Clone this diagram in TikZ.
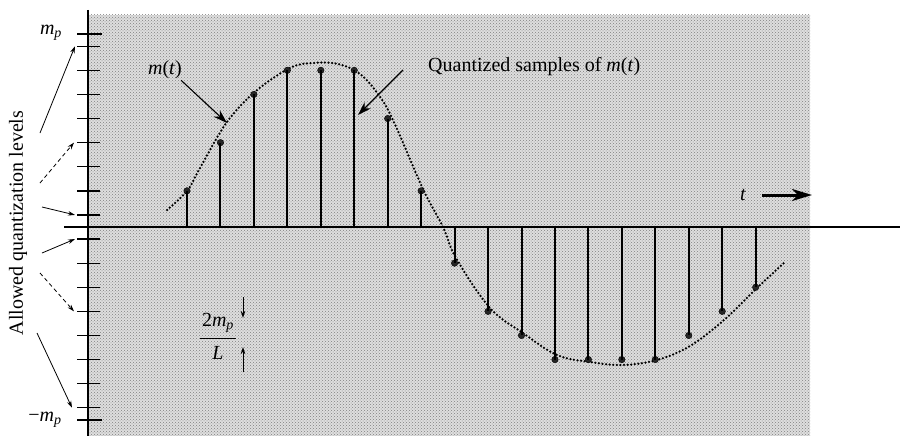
\documentclass[tikz,border=0pt]{standalone}
\usepackage{fontspec}
\setmainfont{Liberation Serif}
\usetikzlibrary{arrows.meta,patterns}
\begin{document}
\begin{tikzpicture}[x=1pt,y=-1pt,
  axisline/.style={line width=1.6pt},
  tickline/.style={line width=1.3pt},
  bigtick/.style={line width=2.4pt},
  stemline/.style={line width=2pt},
  sampledot/.style={circle,fill=black!85,draw=black,line width=0.4pt,inner sep=0pt,minimum size=6.5pt},
  lab/.style={font=\fontsize{20}{23}\selectfont,inner sep=1pt},
  ptr/.style={line width=0.8pt,-{Stealth[length=7pt,width=4.5pt]}},
  dptr/.style={ptr,dash pattern=on 4pt off 3pt},
  bigptr/.style={line width=1.1pt,-{Stealth[length=14pt,width=9pt]}},
  signal/.style={line width=2.5pt,dash pattern=on 0pt off 3.6pt,line cap=round}]
\useasboundingbox (0,0) rectangle (900,436);
% stippled background
\fill[black!13] (88,15) rectangle (810,436);
\fill[pattern=crosshatch dots,pattern color=black!50] (88,15) rectangle (810,436);

% signal curve m(t)
\draw[signal] plot[smooth,tension=0.6] coordinates {
 (167,210) (187,191) (200,168) (227,122) (256,91) (290,68) (313,63)
 (338,64) (360,74) (378,94) (393,120) (423,189) (443,227) (456,258) (490,308)
 (523,333) (557,355) (590,362) (623,365) (657,360) (690,346) (724,320)
 (758,287) (785,262)};

% stems and quantized samples
\foreach \k/\y in {0/190.85,1/142.65,2/94.45,3/70.35,4/70.35,5/70.35,6/118.55,
  7/190.85,8/263.15,9/311.35,10/335.45,11/359.55,12/359.55,13/359.55,
  14/359.55,15/335.45,16/311.35,17/287.25}{
  \pgfmathsetmacro{\xx}{187+33.45*\k}
  \coordinate (b\k) at (\xx,227);
  \node[sampledot] (s\k) at (\xx,\y) {};
  \draw[stemline] (b\k) -- (s\k.center);
}

% axes
\coordinate (xl) at (64,227);
\coordinate (xr) at (900,227);
\coordinate (yt) at (88,10);
\coordinate (yb) at (88,436);
\draw[axisline] (xl) -- (xr);
\draw[axisline] (yt) -- (yb);

% quantization level ticks
\foreach \n in {1,...,8}{
  \pgfmathsetmacro{\yu}{227-24.1*(\n-0.5)}
  \pgfmathsetmacro{\yd}{227+24.1*(\n-0.5)}
  \coordinate (lu\n) at (75,\yu);
  \coordinate (ld\n) at (75,\yd);
  \draw[tickline] (77,\yu) -- (100,\yu);
  \draw[tickline] (77,\yd) -- (100,\yd);
}
\draw[bigtick] (77,34.2) -- (102,34.2);
\draw[bigtick] (77,419.8) -- (102,419.8);

% axis labels
\node[lab] (mp) at (51,33) {\textit{m}\textsubscript{\textit{p}}};
\node[lab] (mmp) at (45,420) {−\textit{m}\textsubscript{\textit{p}}};
\node[lab,rotate=90] (allowed) at (18,223) {Allowed quantization levels};

% arrows from the label to the levels
\coordinate (a1) at (40,133);
\coordinate (a2) at (40,183);
\coordinate (a3) at (42,207);
\coordinate (a4) at (42,253);
\coordinate (a5) at (40,273);
\coordinate (a6) at (37,333);
\draw[ptr] (a1) -- (lu8);
\draw[dptr] (a2) -- ([xshift=-1pt]lu4);
\draw[ptr] (a3) -- (lu1);
\draw[ptr] (a4) -- (ld1);
\draw[dptr] (a5) -- ([xshift=-1pt]ld4);
\draw[ptr] (a6) -- ([xshift=-3pt]ld8);

% m(t) label
\node[lab] (mt) at (165,70) {\textit{m}(\textit{t})};
\coordinate (mttip) at (227,123);
\draw[bigptr] (mt.south east) ++(-2,0) -- (mttip);

% quantized label
\node[lab,anchor=west] (qs) at (427,67) {Quantized samples of \textit{m}(\textit{t})};
\coordinate (qsfrom) at (403,70);
\coordinate (qstip) at (358,115);
\draw[bigptr] (qsfrom) -- (qstip);

% step size label
\node[lab] (num) at (218,323) {2\textit{m}\textsubscript{\textit{p}}};
\node[lab] (den) at (218,353) {\textit{L}};
\coordinate (barl) at (200,338);
\coordinate (barr) at (236,338);
\draw[line width=0.8pt] (barl) -- (barr);
\coordinate (d1) at (243,297);
\coordinate (d1t) at (243,318);
\coordinate (d2) at (243,372);
\coordinate (d2t) at (243,347);
\draw[ptr] (d1) -- (d1t);
\draw[ptr] (d2) -- (d2t);

% time label
\node[lab] (tl) at (743,195) {\textit{t}};
\coordinate (tfrom) at (762,195);
\coordinate (tto) at (812,195);
\draw[line width=3pt,-{Stealth[length=20pt,width=12pt,inset=6pt]}] (tfrom) -- (tto);
\end{tikzpicture}
\end{document}
